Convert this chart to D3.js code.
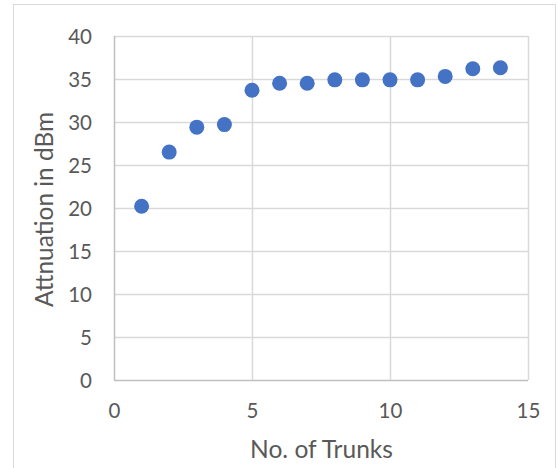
<!DOCTYPE html>
<html>
<head>
<meta charset="utf-8">
<script src="https://cdn.jsdelivr.net/npm/d3@7"></script>
<style>
  body { margin: 0; background: #fff; }
  svg text { font-family: Lato, "Open Sans", sans-serif; fill: #595959; }
</style>
</head>
<body>
<div id="chart"></div>
<script>
'use strict';

// data
const trunks = [1, 2, 3, 4, 5, 6, 7, 8, 9, 10, 11, 12, 13, 14];
const attenuation = [20.2, 26.5, 29.4, 29.7, 33.7, 34.5, 34.5, 34.9, 34.9, 34.9, 34.9, 35.3, 36.2, 36.3];
const xTicks = [0, 5, 10, 15];
const yTicks = [0, 5, 10, 15, 20, 25, 30, 35, 40];

const outerWidth = 558,
    outerHeight = 468,
    plot = {left: 114, top: 36, right: 528, bottom: 380};

const svg = d3.select('#chart')
    .append('svg')
    .attr('width', outerWidth)
    .attr('height', outerHeight);

// chart frame (bottom edge falls outside the crop)
svg.append('rect')
    .attr('x', 13.5)
    .attr('y', 4.5)
    .attr('width', 542)
    .attr('height', 480)
    .attr('fill', '#fff')
    .attr('stroke', '#d9d9d9')
    .attr('stroke-width', 1);

const xScale = d3.scaleLinear().domain([0, 15]).range([plot.left, plot.right]);
const yScale = d3.scaleLinear().domain([0, 40]).range([plot.bottom, plot.top]);

const grid = svg.append('g').attr('class', 'grid');

grid.selectAll('line.h')
    .data(yTicks)
    .enter().append('line')
    .attr('class', 'h')
    .attr('x1', plot.left)
    .attr('x2', plot.right)
    .attr('y1', function (d) { return Math.round(yScale(d)) + 0.5; })
    .attr('y2', function (d) { return Math.round(yScale(d)) + 0.5; })
    .attr('stroke', function (d) { return d === 0 ? '#bfbfbf' : '#d9d9d9'; })
    .attr('stroke-width', 1.5);

grid.selectAll('line.v')
    .data(xTicks)
    .enter().append('line')
    .attr('class', 'v')
    .attr('y1', plot.top)
    .attr('y2', plot.bottom)
    .attr('x1', function (d) { return Math.round(xScale(d)) + 0.5; })
    .attr('x2', function (d) { return Math.round(xScale(d)) + 0.5; })
    .attr('stroke', function (d) { return d === 0 ? '#bfbfbf' : '#d9d9d9'; })
    .attr('stroke-width', 1.5);

// axes, drawn with d3 axis generators, domain and tick marks hidden
const xAxis = d3.axisBottom(xScale).tickValues(xTicks).tickSize(0).tickPadding(0);
const yAxis = d3.axisLeft(yScale).tickValues(yTicks).tickSize(0).tickPadding(0);

svg.append('g')
    .attr('class', 'xAxis')
    .attr('transform', 'translate(0,' + plot.bottom + ')')
    .call(xAxis)
    .call(function (g) { g.select('.domain').remove(); })
    .selectAll('text')
    .attr('dy', null)
    .attr('y', 38)
    .style('font-size', '20.5px')
    .attr('fill', null);

svg.append('g')
    .attr('class', 'yAxis')
    .attr('transform', 'translate(' + (plot.left - 22) + ',0)')
    .call(yAxis)
    .call(function (g) { g.select('.domain').remove(); })
    .selectAll('text')
    .attr('dy', '0.36em')
    .attr('x', 0)
    .style('font-size', '20.5px')
    .attr('fill', null);

svg.selectAll('.xAxis, .yAxis').attr('font-family', null).attr('font-size', null);

// axis titles, font size fitted to the width they take in the reference
function fitTitle (sel, width) {
    sel.style('font-size', '20px');
    var w = sel.node().getComputedTextLength();
    sel.style('font-size', (20 * width / w).toFixed(2) + 'px');
}

svg.append('text')
    .text('No. of Trunks')
    .attr('x', 321.5)
    .attr('y', 458)
    .style('text-anchor', 'middle')
    .call(fitTitle, 143);

svg.append('text')
    .text('Attnuation in dBm')
    .attr('transform', 'rotate(-90)')
    .attr('x', -209.5)
    .attr('y', 53)
    .style('text-anchor', 'middle')
    .call(fitTitle, 195);

// markers
svg.append('g')
    .selectAll('circle')
    .data(trunks)
    .enter().append('circle')
    .attr('cx', function (d) { return xScale(d); })
    .attr('cy', function (d, i) { return yScale(attenuation[i]); })
    .attr('r', 7.5)
    .attr('fill', '#4472c4');
</script>
</body>
</html>
